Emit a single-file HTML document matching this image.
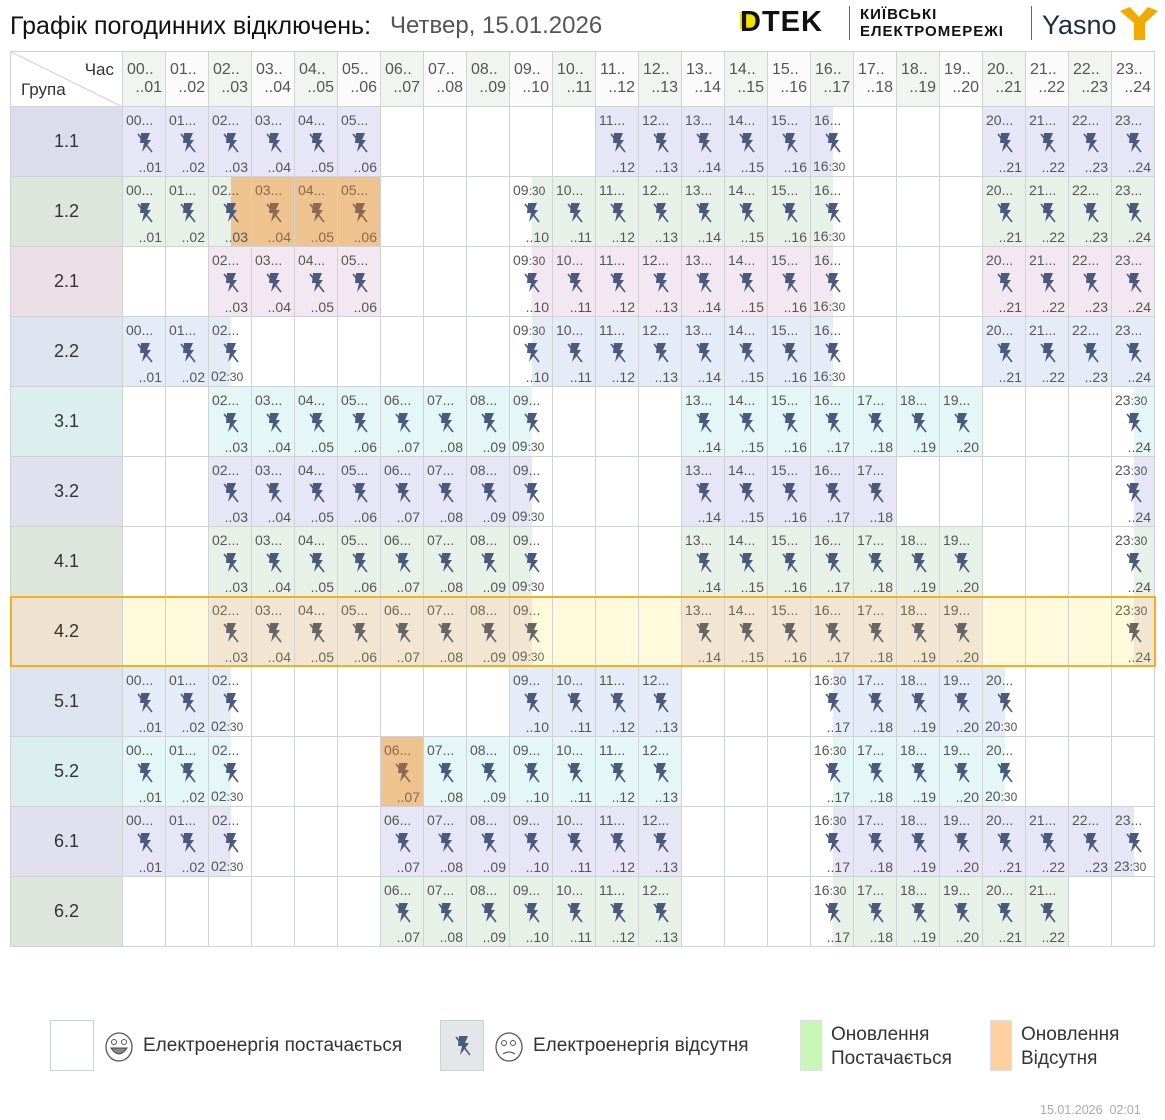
<!DOCTYPE html>
<html><head><meta charset="utf-8">
<style>
body{margin:0;width:1165px;height:1120px;background:#fff;font-family:"Liberation Sans","DejaVu Sans",sans-serif;position:relative;overflow:hidden}
.a{position:absolute;box-sizing:border-box}
.cell{position:absolute;box-sizing:border-box;border-right:1px solid #d0d3d3;border-bottom:1px solid #d0d3d3;overflow:hidden}
.tl{position:absolute;left:3px;top:6px;font-size:14px;color:#555;line-height:14px;white-space:nowrap}
.br{position:absolute;right:3px;bottom:2px;font-size:14px;color:#555;line-height:14px;white-space:nowrap}
.bl{position:absolute;left:2px;bottom:2px;font-size:14px;color:#555;line-height:14px;white-space:nowrap}
.sm{font-size:12px}
.ic{position:absolute;left:13px;top:24px}
</style></head><body>
<div class="a" style="left:10px;top:12px;font-size:25px;color:#111">Графік погодинних відключень:</div>
<div class="a" style="left:390px;top:12px;font-size:24px;color:#555">Четвер, 15.01.2026</div>
<div class="a" style="left:740px;top:8px;width:98px;height:28px">
 <div class="a" style="left:0;top:4px;width:16px;height:17px;background:#f5e000"></div>
 <div class="a" style="left:0;top:-2px;font-size:29px;font-weight:bold;color:#111;letter-spacing:1px">DTEK</div>
</div>
<div class="a" style="left:849px;top:6px;width:1px;height:34px;background:#666"></div>
<div class="a" style="left:860px;top:6px;font-size:15px;font-weight:bold;color:#111;line-height:17px;letter-spacing:1px">КИЇВСЬКІ<br>ЕЛЕКТРОМЕРЕЖІ</div>
<div class="a" style="left:1031px;top:6px;width:1px;height:34px;background:#666"></div>
<div class="a" style="left:1042px;top:10px;font-size:27px;color:#1d2c44">Yasno</div>
<svg class="a" style="left:1118px;top:5px" width="42" height="36"><path d="M2 6 L12 2 L21 12 L30 2 L40 6 L27 18 L27 35 L16 35 L16 18 Z" fill="#f4a900"/></svg>

<div id="grid" class="a" style="left:10px;top:51px;width:1145px;height:896px;border-left:1px solid #d0d3d3;border-top:1px solid #d0d3d3"></div>

<div class="a" style="left:50px;top:1020px;width:44px;height:51px;border:1px solid #ccd3d3;background:#fff"></div>
<svg class="a" style="left:104px;top:1030px" width="30" height="32"><ellipse cx="15" cy="17" rx="13" ry="14" fill="#fff" stroke="#555" stroke-width="1.3"/><circle cx="10" cy="12" r="2.5" fill="none" stroke="#555"/><circle cx="20" cy="12" r="2.5" fill="none" stroke="#555"/><path d="M7 18 Q15 30 23 18 Z" fill="#888" stroke="#444"/></svg>
<div class="a" style="left:143px;top:1035px;font-size:19px;color:#333">Електроенергія постачається</div>
<div class="a" style="left:440px;top:1020px;width:44px;height:51px;border:1px solid #ccd3d3;background:#e3e7e9"></div>
<svg class="a" style="left:454px;top:1034px" width="18" height="24"><path d="M5 2 L14 2 L11 9 L15 9 L6 21 L8 12 L4 12 Z" fill="#4a5a7e"/><line x1="2" y1="3" x2="16" y2="21" stroke="#4a5a7e" stroke-width="1.6"/></svg>
<svg class="a" style="left:494px;top:1030px" width="30" height="32"><ellipse cx="15" cy="17" rx="13" ry="14" fill="#fff" stroke="#555" stroke-width="1.3"/><circle cx="10" cy="13" r="2.5" fill="none" stroke="#555"/><circle cx="19" cy="13" r="2.5" fill="none" stroke="#555"/><path d="M9 24 Q15 20 21 24" fill="none" stroke="#444"/></svg>
<div class="a" style="left:533px;top:1035px;font-size:19px;color:#333">Електроенергія відсутня</div>
<div class="a" style="left:800px;top:1020px;width:22px;height:51px;border:1px solid #dde;background:#c9f8b6"></div>
<div class="a" style="left:831px;top:1023px;font-size:19px;color:#333;line-height:24px">Оновлення<br>Постачається</div>
<div class="a" style="left:990px;top:1020px;width:22px;height:51px;border:1px solid #dde;background:#ffd1a0"></div>
<div class="a" style="left:1021px;top:1023px;font-size:19px;color:#333;line-height:24px">Оновлення<br>Відсутня</div>
<div class="a" style="left:1040px;top:1103px;font-size:12.5px;color:#aaa">15.01.2026&nbsp;&nbsp;02:01</div>

<script>
const groups=["1.1","1.2","2.1","2.2","3.1","3.2","4.1","4.2","5.1","5.2","6.1","6.2"];
const outages=[
 [[0,6],[11,16.5],[20,24]],
 [[0,6],[9.5,16.5],[20,24]],
 [[2,6],[9.5,16.5],[20,24]],
 [[0,2.5],[9.5,16.5],[20,24]],
 [[2,9.5],[13,20],[23.5,24]],
 [[2,9.5],[13,18],[23.5,24]],
 [[2,9.5],[13,20],[23.5,24]],
 [[2,9.5],[13,20],[23.5,24]],
 [[0,2.5],[9,13],[16.5,20.5]],
 [[0,2.5],[6,13],[16.5,20.5]],
 [[0,2.5],[6,13],[16.5,23.5]],
 [[6,13],[16.5,22]]
];
const updates=[[],[[2.5,6]],[],[],[],[],[],[],[],[[6,7]],[],[]];
const groupBg=["#dcdced","#dde5dd","#ecdfe8","#dde3ef","#dcefef","#e0e0ef","#dde5dd","#efe3cf","#dde3ef","#dcefef","#e0e0ef","#dde5dd"];
const cellBg=["#e6e6f6","#e8f1e8","#f3e8f1","#e6ecf7","#e5f6f6","#e6e6f6","#e8f1e8","#f2e6d2","#e6ecf7","#e5f6f6","#e6e6f6","#e8f1e8"];
const highlightRow=7;
const CW=43,RH=70,GW=112,HH=55;
const g=document.getElementById('grid');
const pad=n=>String(n).padStart(2,'0');
function xh(h){return GW+h*CW;}
function yr(r){return HH+r*RH;}
function icon(col){return '<svg class="ic" width="18" height="24"><path d="M5 2 L14 2 L11 9 L15 9 L6 21 L8 12 L4 12 Z" fill="'+col+'"/><line x1="2" y1="3" x2="16" y2="21" stroke="'+col+'" stroke-width="1.6"/></svg>';}
function tm(h){const H=Math.floor(h);return h%1?pad(H)+'<span class="sm">:30</span>':null;}
let c=document.createElement('div');c.className='cell';


c.style.cssText=`left:0;top:0;width:${GW}px;height:${HH}px`;
c.innerHTML='<svg class="a" style="left:0;top:0" width="112" height="55"><line x1="0" y1="0" x2="112" y2="55" stroke="#ccc"/></svg><div class="a" style="right:8px;top:8px;font-size:17px;color:#333">Час</div><div class="a" style="left:10px;top:28px;font-size:17px;color:#333">Група</div>';
g.appendChild(c);
for(let h=0;h<24;h++){
 const e=document.createElement('div');e.className='cell';
 
 
 e.style.cssText=`left:${xh(h)}px;top:0;width:${CW}px;height:${HH}px;background:${h%2?'#fafbfa':'#f2f4f2'}`;
 e.innerHTML=`<div class="a" style="left:4px;top:9px;font-size:16px;color:#555">${pad(h)}..</div><div class="a" style="right:3px;top:27px;font-size:16px;color:#555">..${pad(h+1)}</div>`;
 g.appendChild(e);
}
groups.forEach((gr,r)=>{
 const hl=r===highlightRow;
 const ge=document.createElement('div');ge.className='cell';
 
 
 ge.style.cssText=`left:0;top:${yr(r)}px;width:${GW}px;height:${RH}px;background:${groupBg[r]};display:flex;align-items:center;justify-content:center;font-size:18px;color:#333`;
 ge.textContent=gr;g.appendChild(ge);
 for(let h=0;h<24;h++){
  const e=document.createElement('div');e.className='cell';
  
  
  e.style.cssText=`left:${xh(h)}px;top:${yr(r)}px;width:${CW}px;height:${RH}px;background:${hl?'#fffadc':'#fff'}`;
  let html='';let seg=null;
  outages[r].forEach(([s,t])=>{const a=Math.max(s,h),b=Math.min(t,h+1);if(b>a)seg=[a,b,s,t];});
  let upd=false;
  if(seg){
   html+=`<div class="a" style="left:${(seg[0]-h)*CW}px;top:0;width:${(seg[1]-seg[0])*CW}px;height:100%;background:${cellBg[r]}"></div>`;
   updates[r].forEach(([s,t])=>{const a=Math.max(s,h),b=Math.min(t,h+1);if(b>a){upd=(b-a)>=1;html+=`<div class="a" style="left:${(a-h)*CW}px;top:0;width:${(b-a)*CW}px;height:100%;background:#eec38f"></div>`;}});
   const txt=upd?'#8a6a4a':(hl?'#6a6a50':'#555');
   const icol=upd?'#8a6a50':(hl?'#666':'#4a5a7e');
   const top=seg[0]>h?tm(seg[0]):pad(h)+'...';
   html+=`<div class="tl" style="color:${txt}">${top}</div>`;
   html+=icon(icol);
   if(seg[1]<h+1)html+=`<div class="bl" style="color:${txt}">${tm(seg[1])}</div>`;
   else html+=`<div class="br" style="color:${txt}">..${pad(h+1)}</div>`;
  }
  e.innerHTML=html;g.appendChild(e);
 }
 if(hl){
  const b=document.createElement('div');b.className='a';
  
  
  b.style.cssText=`left:-1px;top:${yr(r)-1}px;width:1146px;height:${RH+1}px;border:2px solid #f0b020`;
  g.appendChild(b);
 }
});
</script>
</body></html>
